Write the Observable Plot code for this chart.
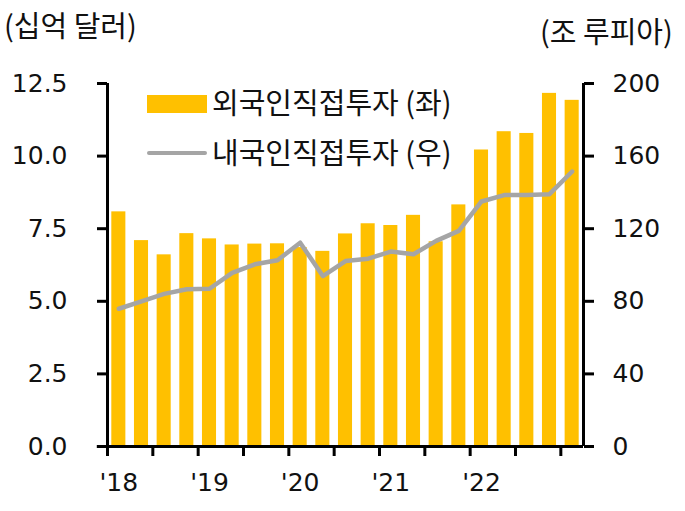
<!DOCTYPE html>
<html><head><meta charset="utf-8">
<script src="https://cdn.jsdelivr.net/npm/d3@7"></script>
<script src="https://cdn.jsdelivr.net/npm/@observablehq/plot@0.6"></script>
<style>
body{margin:0;background:#fff;}
#wrap{position:relative;width:685px;height:511px;font-family:"Noto Sans CJK KR",sans-serif;color:#111;}
.t{position:absolute;white-space:nowrap;font-size:29px;line-height:1;}
</style></head>
<body><div id="wrap"></div>
<script>
const quarters = ["2018Q1","2018Q2","2018Q3","2018Q4","2019Q1","2019Q2","2019Q3","2019Q4","2020Q1","2020Q2","2020Q3","2020Q4","2021Q1","2021Q2","2021Q3","2021Q4","2022Q1","2022Q2","2022Q3","2022Q4","2023Q1"];
const foreignFDI = [8.08,7.09,6.60,7.33,7.15,6.94,6.97,6.98,6.85,6.72,7.32,7.67,7.61,7.96,7.05,8.32,10.21,10.84,10.78,12.16,11.92];
const domesticDI = [75.9,80.0,84.1,86.6,86.9,95.7,100.4,102.6,112.3,93.9,102.2,103.5,107.4,105.9,113.3,118.8,135.0,138.5,138.5,139.0,151.5];
const yearLabels = ["'18","'19","'20","'21","'22"];
const leftTicks = [0,2.5,5,7.5,10,12.5];
const rightTicks = [0,40,80,120,160,200];

const rows = quarters.map((q,i)=>({q, i, fdi: foreignFDI[i], ddi: domesticDI[i]}));
const k = 12.5/200;
const tickFont = {fontFamily:"DejaVu Sans", fontSize:25, fill:"#111"};

const chart = Plot.plot({
  width:685, height:511,
  marginLeft:107, marginRight:102, marginTop:83, marginBottom:65,
  style:{fontFamily:"DejaVu Sans", fontSize:"25px", color:"#111", background:"#fff"},
  x:{type:"linear", domain:[0,21], label:null},
  y:{domain:[0,12.5], label:null},
  marks:[
    Plot.rectY(rows,{x:"i", y:"fdi", interval:1, insetLeft:4.3, insetRight:4.3, fill:"#FFC000"}),
    Plot.line(rows,{x:d=>d.i+0.5, y:d=>d.ddi*k, stroke:"#A5A5A5", strokeWidth:4.5}),
    Plot.axisY({anchor:"left", label:null, ticks:leftTicks, tickFormat:d3.format(".1f"), tickSize:10, tickPadding:30, strokeWidth:3, stroke:"#000", ...tickFont}),
    Plot.axisY({anchor:"right", label:null, ticks:rightTicks.map(v=>v*k), tickFormat:d=>String(Math.round(d/k)), tickSize:10, tickPadding:19, strokeWidth:3, stroke:"#000", ...tickFont}),
    Plot.axisX({label:null, ticks:d3.range(0,21,2), tickSize:10, tickFormat:()=>"", strokeWidth:3, stroke:"#000"}),
    Plot.axisX({label:null, ticks:yearLabels.map((_,j)=>j*4+0.5), tickSize:0, tickPadding:27, tickFormat:(d)=>yearLabels[Math.round((d-0.5)/4)], ...tickFont}),
    Plot.ruleX([0],{stroke:"#000", strokeWidth:3}),
    Plot.ruleX([21],{stroke:"#000", strokeWidth:3}),
    Plot.ruleY([0],{stroke:"#000", strokeWidth:3, x1:-0.45, x2:21})
  ]
});
const wrap = document.getElementById("wrap");
wrap.appendChild(chart);
function addText(txt,left,top){const d=document.createElement("div");d.className="t";d.textContent=txt;d.style.left=left+"px";d.style.top=top+"px";wrap.appendChild(d);}
addText("(십억 달러)",4,10);
addText("(조 루피아)",540,16);
addText("외국인직접투자 (좌)",212,87);
addText("내국인직접투자 (우)",212,137);
const sw=document.createElement("div");sw.style.cssText="position:absolute;left:147px;top:95px;width:60px;height:18px;background:#FFC000;";wrap.appendChild(sw);
const ln=document.createElement("div");ln.style.cssText="position:absolute;left:147px;top:151px;width:60px;height:4px;background:#A5A5A5;border-radius:2px;";wrap.appendChild(ln);
</script></body></html>
